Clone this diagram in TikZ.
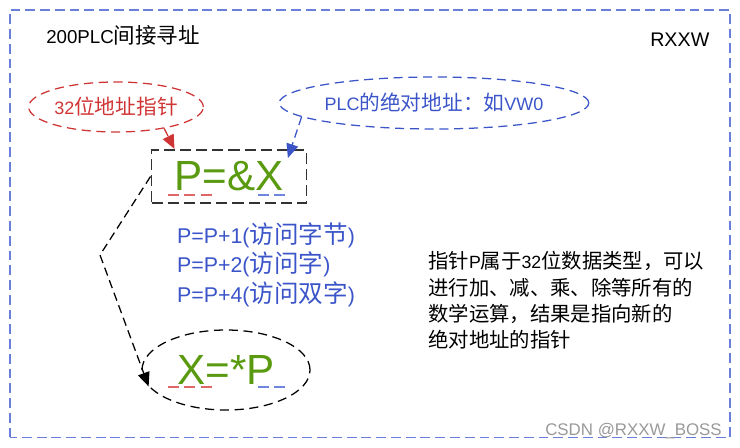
\documentclass[tikz,border=0pt]{standalone}
\usepackage{fontspec}
\setmainfont{Liberation Sans}
\newfontfamily\cjkfont[Scale=1.15]{Noto Sans CJK SC}
\newcommand\cn[1]{{\cjkfont #1}}
\usetikzlibrary{shapes.geometric,arrows.meta,calc}

\definecolor{frameblue}{HTML}{6A7FDC}
\definecolor{inkblue}{HTML}{3B55C9}
\definecolor{inkred}{HTML}{D03535}
\definecolor{inkgreen}{HTML}{5A9A10}
\definecolor{lightred}{HTML}{E06666}
\definecolor{lightblue}{HTML}{6F84DC}
\definecolor{boxgray}{HTML}{333333}

\begin{document}
\begin{tikzpicture}[
    frame/.style={draw=frameblue, line width=1.4pt, dash pattern=on 7pt off 3.5pt},
    bubble/.style={ellipse, line width=0.9pt, dash pattern=on 6.5pt off 4pt, inner sep=0pt},
    flow/.style={line width=0.9pt, dash pattern=on 6pt off 3.5pt, -{Triangle[length=10pt, width=8.5pt]}},
    big/.style={font=\fontsize{30}{32}\selectfont, text=inkgreen},
    txt/.style={inner sep=0pt, anchor=base west},
    uline/.style={line width=1.4pt, dash pattern=on 7.8pt off 3.9pt},
  ]
  \useasboundingbox (0,0) rectangle (18.5,11.2);
  \draw[frame] (0.25,0.2625) rectangle (18.25,10.95);

  \node[txt, font=\fontsize{13.3}{16}\selectfont] (title) at (1.15,10.12) {200PLC\cn{间接寻址}};
  \node[txt, font=\fontsize{14}{16}\selectfont] (sign) at (16.25,10.03) {RXXW};

  % pointer and address bubbles
  \node[bubble, draw=inkred, text=inkred, minimum width=3.7cm, minimum height=1.25cm,
    font=\fontsize{12.8}{14}\selectfont] (addr) at (2.9,8.525) {32\cn{位地址指针}};
  \node[bubble, draw=inkblue, text=inkblue, minimum width=6.45cm, minimum height=1.3cm,
    font=\fontsize{12.8}{14}\selectfont] (abs) at (10.85,8.625) {PLC\cn{的绝对地址：如}VW0};

  % P=&X and X=*P
  \node[draw=boxgray, line width=1.4pt, dash pattern=on 8pt off 3.5pt,
    minimum width=3.875cm, minimum height=1.325cm, big] (pex) at (5.725,6.7875) {P=\&X};
  \node[bubble, draw=black, minimum width=4.2cm, minimum height=2cm, big] (deref) at (5.65,1.95) {X=*P};
  \foreach \y in {6.325,1.5325} {
    \draw[uline, draw=lightred] (4.2,\y) -- (5.3,\y);
    \draw[uline, draw=lightblue] (6.45,\y) -- (7.125,\y);
  }

  \draw[flow, draw=inkred] (addr.-24) -- ($(pex.north west)+(0.6,0)$);
  \draw[flow, draw=inkblue] (abs.186) -- ($(pex.north east)+(-0.49,-0.225)$);
  \coordinate (turn) at (2.5,4.825);
  \draw[flow] (pex.west) -- (turn) -- (deref.192);

  % pointer arithmetic
  \foreach \i/\y/\t in {1/5.1125/{P=P+1(\cn{访问字节})}, 2/4.375/{P=P+2(\cn{访问字})},
      3/3.6375/{P=P+4(\cn{访问双字})}}
    \node[txt, text=inkblue, font=\fontsize{15.2}{16}\selectfont] (acc\i) at (4.42,\y) {\t};

  % note on the right
  \foreach \i/\y/\t in {1/4.475/{\cn{指针}P\cn{属于}32\cn{位数据类型，可以}},
      2/3.82/{\cn{进行加、减、乘、除等所有的}}, 3/3.165/{\cn{数学运算，结果是指向新的}},
      4/2.51/{\cn{绝对地址的指针}}}
    \node[txt, font=\fontsize{12.6}{14}\selectfont] (note\i) at (10.7,\y) {\t};

  \node[txt, text=black!40, font=\fontsize{12}{14}\selectfont] (mark) at (13.625,0.3) {CSDN @RXXW\_BOSS};
\end{tikzpicture}
\end{document}
